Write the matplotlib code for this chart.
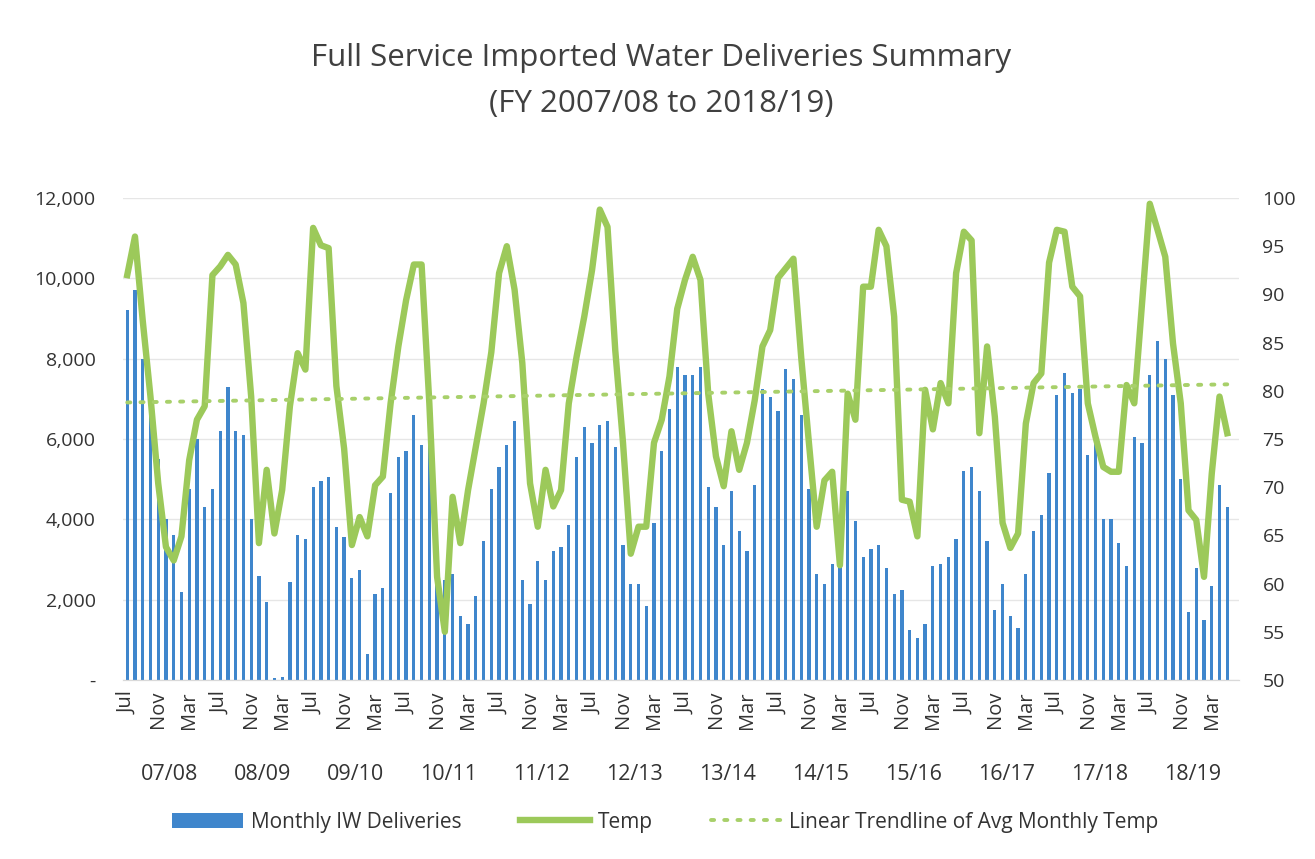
import matplotlib
matplotlib.use("Agg")
import matplotlib.pyplot as plt
import numpy as np
from matplotlib.ticker import FuncFormatter

plt.rcParams['font.family'] = ['Open Sans', 'DejaVu Sans']

fiscal_years = ["07/08", "08/09", "09/10", "10/11", "11/12", "12/13",
                "13/14", "14/15", "15/16", "16/17", "17/18", "18/19"]
months = ["Jul", "Aug", "Sep", "Oct", "Nov", "Dec",
          "Jan", "Feb", "Mar", "Apr", "May", "Jun"]

# monthly imported water deliveries (AF), Jul 2007 .. May 2019
deliveries = [
    9200, 9700, 8000, 7000, 5500, 4000, 3600, 2200, 4750, 6000, 4300, 4750,
    6200, 7300, 6200, 6100, 4000, 2600, 1950, 50, 80, 2450, 3600, 3500,
    4800, 4950, 5050, 3800, 3550, 2550, 2750, 650, 2150, 2300, 4650, 5550,
    5700, 6600, 5850, 6900, 2600, 2500, 2650, 1600, 1400, 2100, 3450, 4750,
    5300, 5850, 6450, 2500, 1900, 2950, 2500, 3200, 3300, 3850, 5550, 6300,
    5900, 6350, 6450, 5800, 3350, 2400, 2400, 1850, 3900, 5700, 6750, 7800,
    7600, 7600, 7800, 4800, 4300, 3350, 4700, 3700, 3200, 4850, 7250, 7050,
    6700, 7750, 7500, 6600, 4750, 2650, 2400, 2900, 2900, 4700, 3950, 3050,
    3250, 3350, 2800, 2150, 2250, 1250, 1050, 1400, 2850, 2900, 3050, 3500,
    5200, 5300, 4700, 3450, 1750, 2400, 1600, 1300, 2650, 3700, 4100, 5150,
    7100, 7650, 7150, 7250, 5600, 5900, 4000, 4000, 3400, 2850, 6050, 5900,
    7600, 8450, 8000, 7100, 5000, 1700, 2800, 1500, 2350, 4850, 4300,
]

# average monthly temperature (F)
temps = [
    92.0, 96.0, 87.3, 79.4, 70.4, 63.8, 62.4, 64.9, 72.8, 77.0, 78.4, 92.0,
    92.9, 94.1, 93.1, 89.1, 79.4, 64.2, 71.8, 65.2, 69.7, 78.4, 83.9, 82.2,
    96.9, 95.1, 94.8, 80.5, 74.0, 64.0, 66.9, 64.9, 70.2, 71.1, 78.7, 84.6,
    89.4, 93.1, 93.1, 78.7, 60.7, 55.0, 69.0, 64.2, 69.7, 74.2, 78.7, 84.0,
    92.2, 95.0, 90.5, 82.9, 70.4, 65.9, 71.8, 68.0, 69.7, 78.7, 83.5, 87.7,
    92.5, 98.8, 97.0, 84.2, 74.6, 63.1, 65.9, 65.9, 74.6, 77.0, 81.5, 88.5,
    91.5, 93.9, 91.5, 79.7, 73.2, 70.1, 75.8, 71.8, 74.6, 79.0, 84.6, 86.3,
    91.7, 92.7, 93.7, 83.5, 74.6, 65.9, 70.7, 71.6, 61.9, 79.7, 77.0, 90.8,
    90.8, 96.7, 95.0, 87.7, 68.7, 68.5, 64.9, 80.1, 76.0, 80.8, 78.7, 92.2,
    96.5, 95.6, 75.6, 84.6, 77.3, 66.3, 63.7, 65.2, 76.6, 80.8, 81.8, 93.3,
    96.7, 96.5, 90.8, 89.8, 78.7, 75.2, 72.1, 71.6, 71.6, 80.6, 78.7, 89.1,
    99.4, 96.7, 93.9, 84.9, 78.7, 67.6, 66.6, 60.7, 71.4, 79.4, 75.6,
]

n_slots = len(fiscal_years) * 12
x = np.arange(len(deliveries))

fig = plt.figure(figsize=(13.15, 8.59), dpi=100)
ax = fig.add_axes([0.0938, 0.2084, 0.8483, 0.5611])
ax2 = ax.twinx()

bar_color = '#3f86cc'
temp_color = '#9cc95a'
trend_color = '#a8d06a'
text_color = '#333333'

bars = ax.bar(x, deliveries, width=0.42, color=bar_color, zorder=2,
              label='Monthly IW Deliveries')

ax.set_xlim(-0.5, n_slots - 0.5)
ax.set_ylim(0, 12000)
ax.set_yticks(np.arange(0, 12001, 2000))
ax.yaxis.set_major_formatter(FuncFormatter(lambda v, p: '-' if v == 0 else '{:,.0f}'.format(v)))
ax.grid(axis='y', color='#e6e6e6', linewidth=1, zorder=0)
ax.set_axisbelow(True)

tick_pos = np.arange(0, n_slots, 4)
ax.set_xticks(tick_pos)
ax.set_xticklabels([months[p % 12] for p in tick_pos], rotation=90,
                   fontsize=14.5, color=text_color)
ax.tick_params(axis='x', length=0, pad=8)
ax.tick_params(axis='y', length=0, labelsize=14, labelcolor=text_color, pad=20)

for i, fy in enumerate(fiscal_years):
    ax.text(i * 12 + 5.5, -0.196, fy, transform=ax.get_xaxis_transform(),
            ha='center', va='center', fontsize=15.5, color=text_color)

# temperature on the secondary axis
line, = ax2.plot(x, temps, color=temp_color, linewidth=4.6, zorder=3,
                 solid_joinstyle='round', label='Temp')
coef = np.polyfit(x, temps, 1)
trend, = ax2.plot(x, np.polyval(coef, x), color=trend_color, linewidth=2.8,
                  linestyle=(0, (0.8, 2.6)), dash_capstyle='round',
                  label='Linear Trendline of Avg Monthly Temp', zorder=4)
ax2.set_ylim(50, 100)
ax2.set_yticks(np.arange(50, 101, 5))
ax2.tick_params(axis='y', length=0, labelsize=14, labelcolor=text_color, pad=17)

for a in (ax, ax2):
    for side in ('top', 'left', 'right'):
        a.spines[side].set_visible(False)
    a.spines['bottom'].set_color('#d9d9d9')

fig.text(0.503, 0.933, 'Full Service Imported Water Deliveries Summary',
         ha='center', va='center', fontsize=22.5, color='#404040')
fig.text(0.503, 0.879, '(FY 2007/08 to 2018/19)',
         ha='center', va='center', fontsize=22.5, color='#404040')

fig.legend(handles=[bars, line, trend], loc='center', bbox_to_anchor=(0.506, 0.043),
           ncol=3, frameon=False, fontsize=15, handlelength=3.4,
           handletextpad=0.35, columnspacing=2.8, labelcolor=text_color)

fig.savefig('out.png', dpi=100)
